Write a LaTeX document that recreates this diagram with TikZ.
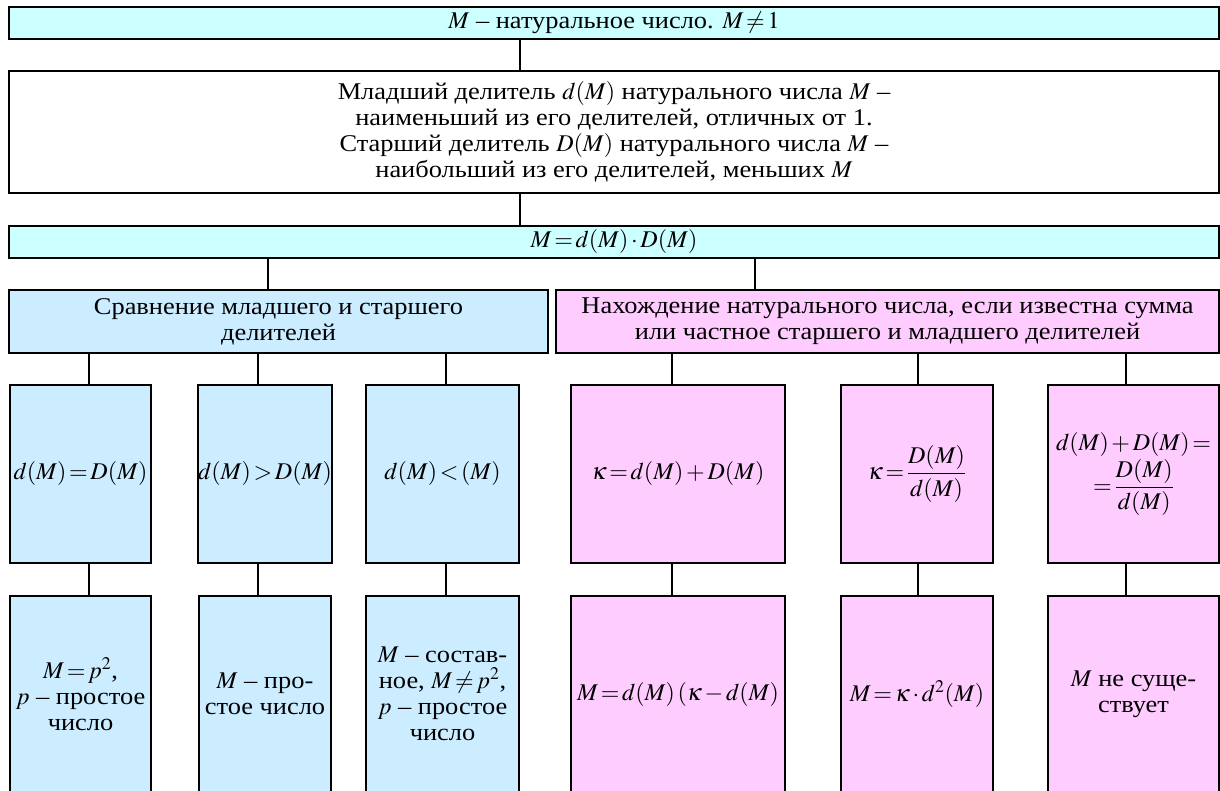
\documentclass[tikz,border=0pt]{standalone}
\usepackage{amsmath}
\usepackage{mathptmx}
\usepackage{fontspec}
\setmainfont{Liberation Serif}
\newfontfamily\timesfont[FakeStretch=1.1]{Liberation Serif}
\usepackage{xcolor}
\usepackage{tikz}
\usetikzlibrary{positioning}

\definecolor{cyanbox}{HTML}{CCFFFF}
\definecolor{bluebox}{HTML}{CCECFF}
\definecolor{pinkbox}{HTML}{FFCCFF}
\thickmuskip=2mu
\medmuskip=2mu

\begin{document}
\begin{tikzpicture}[x=1pt, y=1pt, line width=1.5pt,
                    font=\timesfont\fontsize{24}{26}\selectfont]
\tikzstyle{box}=[shape=rectangle, draw=black, line width=1.5pt,
                    inner xsep=0pt, inner ysep=2pt, align=center]
\tikzstyle{cbox}=[box, fill=cyanbox]
\tikzstyle{bbox}=[box, fill=bluebox]
\tikzstyle{pbox}=[box, fill=pinkbox]
  \useasboundingbox (0,0) rectangle (1220,790);
  % upper part
  \node[cbox, minimum width=1210, minimum height=32] (top) at (614,767)
      {$M$ – натуральное число. $M \neq 1$};
  \node[box, minimum width=1210, minimum height=122] (def) at (614,658)
      {Младший делитель $d(M)$ натурального числа $M$ –\\
       наименьший из его делителей, отличных от 1.\\
       Старший делитель $D(M)$ натурального числа $M$ –\\
       наибольший из его делителей, меньших $M$};
  \node[cbox, minimum width=1210, minimum height=32] (prod) at (614,548)
      {$M = d(M) \cdot D(M)$};
  \node[bbox, minimum width=539, minimum height=63] (cmp) at (278.5,468.5)
      {Сравнение младшего и старшего\\ делителей};
  \node[pbox, minimum width=663, minimum height=63] (find) at (887.5,468.5)
      {Нахождение натурального числа, если известна сумма\\
       или частное старшего и младшего делителей};
  % conditions
  \node[bbox, minimum width=141, minimum height=178] (eq)  at (80.5,316)  {$d(M) = D(M)$};
  \node[bbox, minimum width=132, minimum height=178] (gt)  at (265,316)   {$d(M) > D(M)$};
  \node[bbox, minimum width=153, minimum height=178] (lt)  at (442.5,316) {$d(M) < (M)$};
  \node[pbox, minimum width=214, minimum height=178] (sum) at (678,316)   {$\kappa = d(M) + D(M)$};
  \node[pbox, minimum width=152, minimum height=178] (quo) at (917,316)   {$\kappa = \dfrac{D(M)}{d(M)}$};
  \node[pbox, minimum width=171, minimum height=178] (both) at (1133.5,316)
      {$d(M) + D(M) =$\\[2pt] $= \dfrac{D(M)}{d(M)}$};
  % results
  \node[bbox, minimum width=141, minimum height=196] (eqr)  at (80.5,96)
      {$M = p^2$,\\ $p$ – простое\\ число};
  \node[bbox, minimum width=132, minimum height=196] (gtr)  at (265,96)
      {$M$ – про-\\ стое число};
  \node[bbox, minimum width=153, minimum height=196] (ltr)  at (442.5,96)
      {$M$ – состав-\\ ное, $M \neq p^2$,\\ $p$ – простое\\ число};
  \node[pbox, minimum width=214, minimum height=196] (sumr) at (678,96)
      {$M = d(M)\,(\kappa - d(M)$};
  \node[pbox, minimum width=152, minimum height=196] (quor) at (917,96)
      {$M = \kappa \cdot d^2(M)$};
  \node[pbox, minimum width=171, minimum height=196] (bothr) at (1133.5,96)
      {$M$ не суще-\\ ствует};
  % connector columns
  \coordinate (c0) at (520,0);
  \coordinate (cl) at (268,0);
  \coordinate (cr) at (755,0);
  \coordinate (c1) at (89,0);
  \coordinate (c2) at (258,0);
  \coordinate (c3) at (446,0);
  \coordinate (c4) at (672,0);
  \coordinate (c5) at (918,0);
  \coordinate (c6) at (1126,0);
  \path (top.south -| c0)  edge (def.north -| c0);
  \path (def.south -| c0)  edge (prod.north -| c0);
  \path (prod.south -| cl) edge (cmp.north -| cl);
  \path (prod.south -| cr) edge (find.north -| cr);
  \path (cmp.south -| c1)  edge (eq.north -| c1);
  \path (cmp.south -| c2)  edge (gt.north -| c2);
  \path (cmp.south -| c3)  edge (lt.north -| c3);
  \path (find.south -| c4) edge (sum.north -| c4);
  \path (find.south -| c5) edge (quo.north -| c5);
  \path (find.south -| c6) edge (both.north -| c6);
  \path (eq.south -| c1)   edge (eqr.north -| c1);
  \path (gt.south -| c2)   edge (gtr.north -| c2);
  \path (lt.south -| c3)   edge (ltr.north -| c3);
  \path (sum.south -| c4)  edge (sumr.north -| c4);
  \path (quo.south -| c5)  edge (quor.north -| c5);
  \path (both.south -| c6) edge (bothr.north -| c6);
\end{tikzpicture}
\end{document}
